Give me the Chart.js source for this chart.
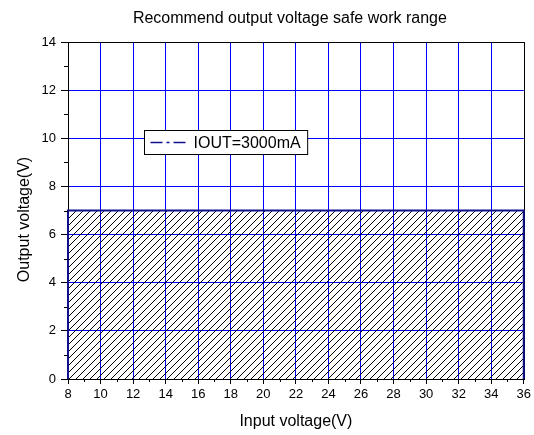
<!DOCTYPE html>
<html>
<head>
<meta charset="utf-8">
<script src="https://cdn.jsdelivr.net/npm/chart.js@4.4.1/dist/chart.umd.min.js"></script>
<style>
  html, body { margin: 0; padding: 0; background: #fff; }
  #wrap { width: 534px; height: 435px; }
</style>
</head>
<body>
<div id="wrap"><canvas id="c" width="534" height="435"></canvas></div>
<script>
// ---- data ----
const chartTitle = 'Recommend output voltage safe work range';
const xAxisTitle = 'Input voltage(V)';
const yAxisTitle = 'Output voltage(V)';
const seriesLabel = 'IOUT=3000mA';
// boundary of the safe (hatched) region: input voltage vs output voltage
const inputVoltage = [8, 8, 36, 36];
const outputVoltage = [0, 7, 7, 0];
const xTicks = [8, 10, 12, 14, 16, 18, 20, 22, 24, 26, 28, 30, 32, 34, 36];
const yTicks = [0, 2, 4, 6, 8, 10, 12, 14];
const xMinorTicks = [9, 11, 13, 15, 17, 19, 21, 23, 25, 27, 29, 31, 33, 35];
const yMinorTicks = [1, 3, 5, 7, 9, 11, 13];

const FONT = 'Arial, "Liberation Sans", sans-serif';
const NAVY = '#10108c';
const GRID = '#0000ff';

function makeHatch() {
  const s = 7;
  const c = document.createElement('canvas');
  c.width = s; c.height = s;
  const g = c.getContext('2d');
  g.strokeStyle = '#000';
  g.lineWidth = 1;
  g.beginPath();
  g.moveTo(-1, s + 1); g.lineTo(s + 1, -1);
  g.moveTo(-1, 1); g.lineTo(1, -1);
  g.moveTo(s - 1, s + 1); g.lineTo(s + 1, s - 1);
  g.stroke();
  return g.createPattern(c, 'repeat');
}

const framePlugin = {
  id: 'frame',
  beforeDatasetsDraw(chart) {
    const { ctx, chartArea: a } = chart;
    ctx.save();
    ctx.strokeStyle = '#000';
    ctx.lineWidth = 1;
    ctx.strokeRect(Math.round(a.left) + 0.5, Math.round(a.top) + 0.5,
                   Math.round(a.right - a.left), Math.round(a.bottom - a.top));
    ctx.restore();
  },
  afterDraw(chart) {
    const { ctx, chartArea: a, scales } = chart;
    ctx.save();
    ctx.strokeStyle = '#000';
    ctx.lineWidth = 1;
    ctx.beginPath();
    xMinorTicks.forEach(v => {
      const px = Math.round(scales.x.getPixelForValue(v)) + 0.5;
      ctx.moveTo(px, Math.round(a.bottom));
      ctx.lineTo(px, Math.round(a.bottom) + 3);
    });
    yMinorTicks.forEach(v => {
      const py = Math.round(scales.y.getPixelForValue(v)) + 0.5;
      ctx.moveTo(Math.round(a.left), py);
      ctx.lineTo(Math.round(a.left) - 4, py);
    });
    ctx.stroke();

    // chart title (centred slightly right of canvas centre, as in the original)
    ctx.fillStyle = '#000';
    ctx.font = '16px ' + FONT;
    ctx.textAlign = 'center';
    ctx.textBaseline = 'middle';
    ctx.fillText(chartTitle, (a.left + a.right) / 2 - 6, 18.5);

    // y axis title
    ctx.save();
    ctx.translate(25, (a.top + a.bottom) / 2 + 9);
    ctx.rotate(-Math.PI / 2);
    ctx.fillText(yAxisTitle, 0, 0);
    ctx.restore();

    // legend box
    const lx = Math.round(a.left) + 76.5;
    const ly = Math.round(a.top) + 88.5;
    ctx.font = '16px ' + FONT;
    const tw = ctx.measureText(seriesLabel).width;
    const w = 6 + 35 + 8 + tw + 7;
    const h = 24;
    ctx.fillStyle = '#fff';
    ctx.fillRect(lx, ly, w, h);
    ctx.strokeStyle = '#000';
    ctx.strokeRect(lx, ly, w, h);
    ctx.strokeStyle = NAVY;
    ctx.lineWidth = 1.5;
    ctx.setLineDash([12, 4, 3, 4]);
    ctx.beginPath();
    ctx.moveTo(lx + 6, ly + h / 2);
    ctx.lineTo(lx + 41, ly + h / 2);
    ctx.stroke();
    ctx.setLineDash([]);
    ctx.fillStyle = '#000';
    ctx.textBaseline = 'middle';
    ctx.textAlign = 'left';
    ctx.fillText(seriesLabel, lx + 49, ly + h / 2 + 1);
    ctx.restore();
  }
};

const chart = new Chart(document.getElementById('c'), {
  type: 'scatter',
  data: {
    datasets: [{
      label: seriesLabel,
      data: inputVoltage.map((x, i) => ({ x: x, y: outputVoltage[i] })),
      showLine: true,
      borderColor: NAVY,
      borderWidth: 2,
      pointRadius: 0,
      backgroundColor: makeHatch(),
      fill: 'origin',
      tension: 0,
      clip: 2
    }]
  },
  options: {
    responsive: false,
    animation: false,
    devicePixelRatio: 1,
    layout: { padding: { top: 42, right: 9, bottom: 0, left: 0 } },
    plugins: {
      legend: { display: false },
      tooltip: { enabled: false },
      title: { display: false }
    },
    scales: {
      x: {
        type: 'linear',
        min: 8, max: 36,
        afterBuildTicks: s => { s.ticks = xTicks.map(v => ({ value: v })); },
        afterFit: s => { s.height = 56; },
        ticks: {
          color: '#000',
          font: { family: FONT, size: 13 },
          padding: 3,
          maxRotation: 0,
          autoSkip: false
        },
        grid: {
          color: c => (c.tick && (c.tick.value === 8 || c.tick.value === 36)) ? 'rgba(0,0,0,0)' : GRID,
          lineWidth: 1,
          drawTicks: true,
          tickLength: 5,
          tickColor: '#000'
        },
        border: { display: true, color: '#000', width: 1 },
        title: {
          display: true,
          text: xAxisTitle,
          color: '#000',
          font: { family: FONT, size: 16, lineHeight: 1.2 },
          padding: { top: 4, bottom: 4 }
        }
      },
      y: {
        type: 'linear',
        min: 0, max: 14,
        afterBuildTicks: s => { s.ticks = yTicks.map(v => ({ value: v })); },
        afterFit: s => { s.width = 68; },
        ticks: {
          color: '#000',
          font: { family: FONT, size: 13 },
          padding: 5,
          autoSkip: false
        },
        grid: {
          color: c => (c.tick && (c.tick.value === 0 || c.tick.value === 14)) ? 'rgba(0,0,0,0)' : GRID,
          lineWidth: 1,
          drawTicks: true,
          tickLength: 7,
          tickColor: '#000'
        },
        border: { display: true, color: '#000', width: 1 },
        title: { display: false }
      }
    }
  },
  plugins: [framePlugin]
});
</script>
</body>
</html>
